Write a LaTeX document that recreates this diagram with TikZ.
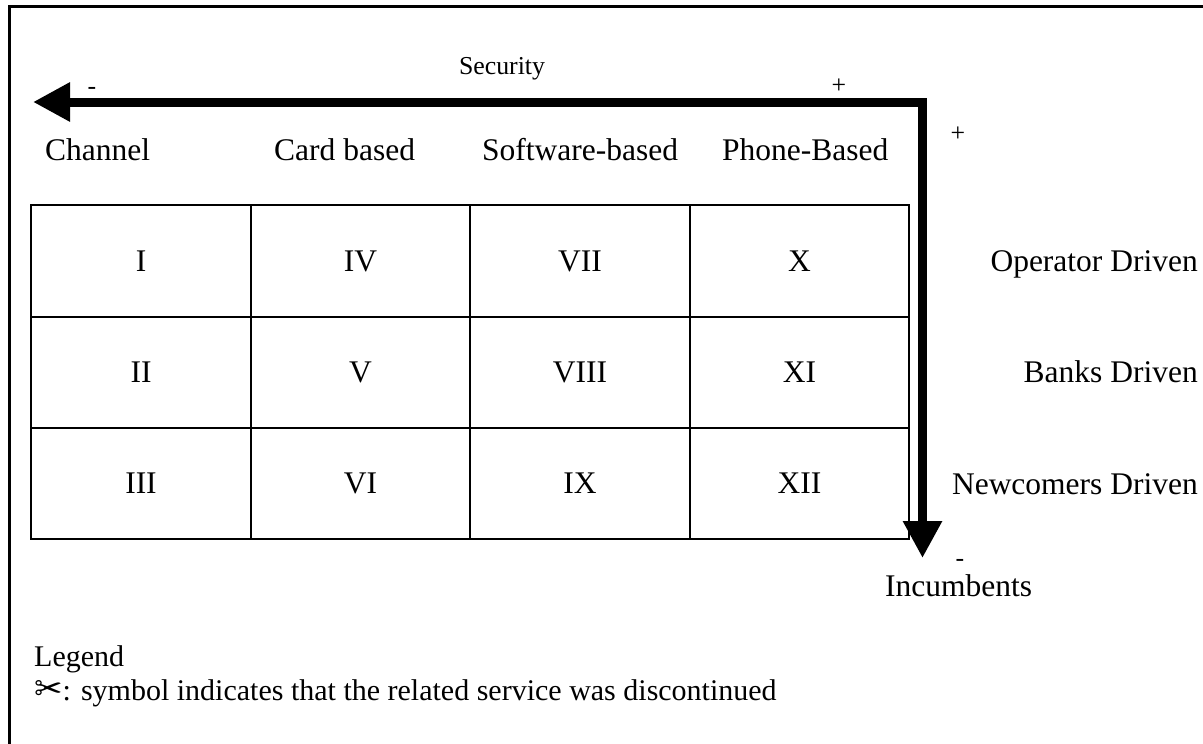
\documentclass[tikz,border=0pt]{standalone}
\usepackage{fontspec}
\setmainfont{Liberation Serif}
\newfontfamily\symfont{DejaVu Sans}
\usetikzlibrary{arrows.meta}
\begin{document}
\begin{tikzpicture}[x=1pt,y=-1pt,
  lbl/.style={inner sep=0pt, font=\fontsize{31.5}{36}\selectfont},
  leglbl/.style={inner sep=0pt, font=\fontsize{30}{34}\selectfont},
  smalllbl/.style={inner sep=0pt, font=\fontsize{25.8}{30}\selectfont},
  cell/.style={draw, line width=2pt, minimum width=219.5pt, minimum height=111.33pt, inner sep=0pt, font=\fontsize{31.5}{36}\selectfont},
  frameline/.style={line width=3pt},
  axisline/.style={line width=9pt, line join=miter, {Triangle[length=37pt,width=37pt]}-{Triangle[length=37pt,width=37pt]}}
]
\useasboundingbox (0,0) rectangle (1203,744);
\coordinate (f1) at (9,744);
\coordinate (f2) at (9,6);
\coordinate (f3) at (1203,6);
\draw[frameline] (f1) -- (f2) -- (f3);

% table
\node[cell] (c11) at (141,261) {I};
\node[cell] (c21) at (141,372.33) {II};
\node[cell] (c31) at (141,483.67) {III};
\node[cell] (c12) at (360.5,261) {IV};
\node[cell] (c22) at (360.5,372.33) {V};
\node[cell] (c32) at (360.5,483.67) {VI};
\node[cell] (c13) at (580,261) {VII};
\node[cell] (c23) at (580,372.33) {VIII};
\node[cell] (c33) at (580,483.67) {IX};
\node[cell] (c14) at (799.5,261) {X};
\node[cell] (c24) at (799.5,372.33) {XI};
\node[cell] (c34) at (799.5,483.67) {XII};

% headers
\node[lbl, anchor=base west] (h1) at (45,160) {Channel};
\node[lbl, anchor=base west] (h2) at (274,160) {Card based};
\node[lbl, anchor=base west] (h3) at (482,160) {Software-based};
\node[lbl, anchor=base west] (h4) at (722,160) {Phone-Based};

% row labels
\node[lbl, anchor=base east] (r1) at (1198,271.5) {Operator Driven};
\node[lbl, anchor=base east] (r2) at (1198,382.8) {Banks Driven};
\node[lbl, anchor=base east] (r3) at (1198,494.2) {Newcomers Driven};

% axes
\coordinate (lt) at (33,102);
\coordinate (cr) at (922.5,102);
\coordinate (bt) at (922.5,558);
\draw[axisline] (lt) -- (cr) -- (bt);
\node[smalllbl, anchor=base] (sec) at (502,74) {Security};
\node[smalllbl, anchor=base] (m1) at (92,94) {-};
\node[smalllbl, anchor=base] (p1) at (839,93) {+};
\node[smalllbl, anchor=base] (p2) at (958,141) {+};
\node[smalllbl, anchor=base] (m2) at (960,566) {-};
\node[lbl, anchor=base west] (inc) at (885,596) {Incumbents};

% legend
\node[leglbl, anchor=base west] (leg) at (34,666) {Legend};
\node[leglbl, anchor=base west] (legtxt) at (34,700) {{\symfont\fontsize{34}{36}\selectfont ✂}: symbol indicates that the related service was discontinued};
\end{tikzpicture}
\end{document}
